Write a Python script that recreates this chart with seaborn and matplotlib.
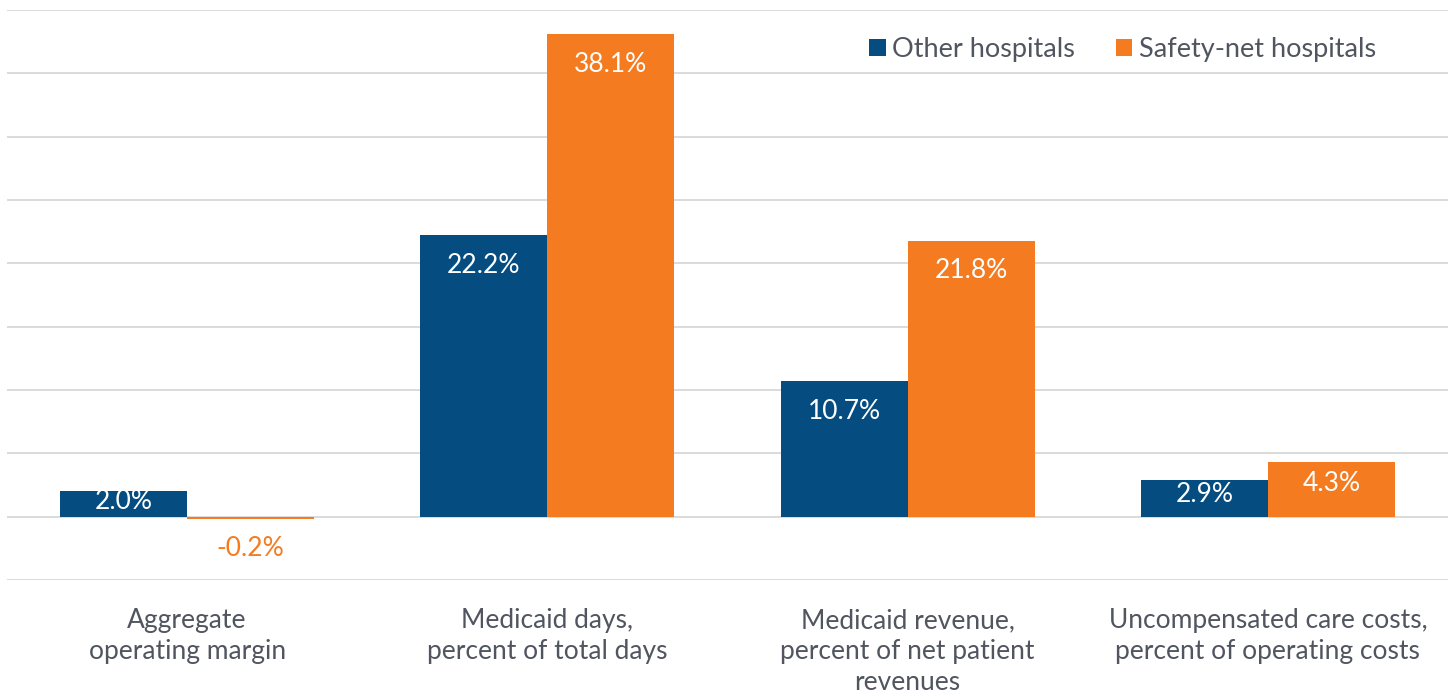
import pandas as pd
import matplotlib.pyplot as plt
import seaborn as sns

# Values (percent)
categories = ['Aggregate\noperating margin',
              'Medicaid days,\npercent of total days',
              'Medicaid revenue,\npercent of net patient\nrevenues',
              'Uncompensated care costs,\npercent of operating costs']
other_hospitals = [2.0, 22.2, 10.7, 2.9]
safety_net_hospitals = [-0.2, 38.1, 21.8, 4.3]
series_names = ['Other hospitals', 'Safety-net hospitals']
colors = ['#054C80', '#F47B20']
text_grey = '#50555F'

df = pd.DataFrame({
    'category': categories * 2,
    'group': [series_names[0]] * 4 + [series_names[1]] * 4,
    'value': other_hospitals + safety_net_hospitals,
})

sns.set_style('white')
plt.rcParams['font.family'] = ['Lato', 'DejaVu Sans']

fig = plt.figure(figsize=(14.55, 6.96), dpi=100)
ax = fig.add_axes([0.0048, 0.1667, 0.9904, 0.8189])

sns.barplot(data=df, x='category', y='value', hue='group', palette=colors,
            width=0.705, saturation=1, linewidth=0, ax=ax, errorbar=None)

ax.set_ylim(-5, 40)
ax.set_xlim(-0.5, 3.5)
ax.set_yticks(range(-5, 41, 5))
ax.yaxis.grid(True, color='#DADADA', linewidth=1.4)
ax.set_axisbelow(True)
ax.tick_params(axis='y', left=False, labelleft=False)
ax.tick_params(axis='x', bottom=False, labelsize=19, labelcolor=text_grey, pad=17)
for label in ax.get_xticklabels():
    label.set_linespacing(1.3)
ax.set_xlabel('')
ax.set_ylabel('')
for s in ax.spines.values():
    s.set_visible(False)

# value labels inside bar ends
for container, col in zip(ax.containers, colors):
    for bar in container:
        v = bar.get_height()
        x = bar.get_x() + bar.get_width() / 2
        if v >= 0:
            y = max(v - 2.37, v * 0.6)
            ax.text(x, y, f'{v:.1f}%', ha='center', va='center',
                    color='white', fontsize=19)
        else:
            ax.text(x, v - 2.3, f'{v:.1f}%', ha='center', va='center',
                    color=col, fontsize=19)

leg = ax.legend(loc='upper right', bbox_to_anchor=(0.967, 0.995), ncol=2,
                frameon=False, fontsize=19.5, handlelength=0.6, handleheight=0.6,
                handletextpad=0.25, columnspacing=1.5, labelcolor=text_grey)

fig.savefig('out.png', dpi=100)
